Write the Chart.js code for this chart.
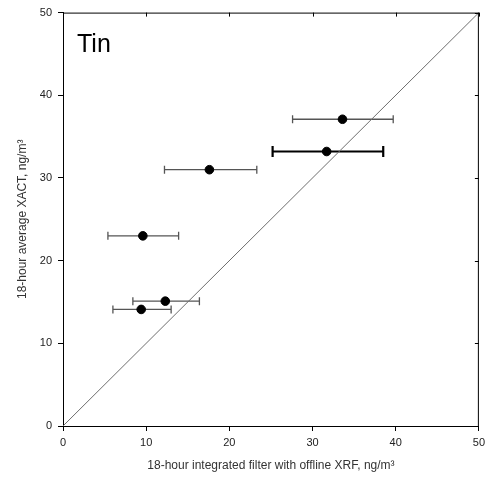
<!DOCTYPE html>
<html>
<head>
<meta charset="utf-8">
<script src="https://cdn.jsdelivr.net/npm/chart.js@4"></script>
<style>
  html, body { margin: 0; padding: 0; background: #fff; }
  #wrap { width: 490px; height: 485px; }
</style>
</head>
<body>
<div id="wrap"><canvas id="grafico" width="490" height="485"></canvas></div>
<script>
// Estaño: XACT (18 h) frente a filtro integrado con XRF
var filtroXRF = [33.6, 31.7, 17.6, 9.6, 12.3, 9.4];
var xactProm = [37.1, 33.2, 31.0, 23.0, 15.1, 14.1];
var errorBajo = [27.6, 25.2, 12.2, 5.4, 8.4, 6.0];
var errorAlto = [39.7, 38.5, 23.3, 13.9, 16.4, 13.0];
var barraOscura = [false, true, false, false, false, false];
var lineaUno = [0, 50];
var marcas = [0, 10, 20, 30, 40, 50];

var fuente = "'Liberation Sans', Arial, sans-serif";

// barras de error horizontales, marco superior/derecho y la etiqueta "Tin"
var extras = {
    id: 'extras',
    beforeDatasetsDraw: function (chart) {
        var ctx = chart.ctx, sx = chart.scales.x, sy = chart.scales.y;
        ctx.save();
        for (var i = 0; i < filtroXRF.length; i++) {
            var y = sy.getPixelForValue(xactProm[i]);
            var x1 = sx.getPixelForValue(errorBajo[i]);
            var x2 = sx.getPixelForValue(errorAlto[i]);
            var cap = barraOscura[i] ? 5.5 : 4;
            ctx.strokeStyle = barraOscura[i] ? '#000' : '#555';
            ctx.lineWidth = barraOscura[i] ? 2.2 : 1.3;
            ctx.beginPath();
            ctx.moveTo(x1, y); ctx.lineTo(x2, y);
            ctx.moveTo(x1, y - cap); ctx.lineTo(x1, y + cap);
            ctx.moveTo(x2, y - cap); ctx.lineTo(x2, y + cap);
            ctx.stroke();
        }
        ctx.restore();
    },
    afterDraw: function (chart) {
        var ctx = chart.ctx, a = chart.chartArea, sx = chart.scales.x, sy = chart.scales.y;
        ctx.save();
        ctx.strokeStyle = '#000';
        ctx.lineWidth = 1;
        ctx.beginPath();
        ctx.moveTo(a.left, a.top + 0.5); ctx.lineTo(a.right, a.top + 0.5);
        ctx.moveTo(a.right - 0.5, a.top); ctx.lineTo(a.right - 0.5, a.bottom);
        marcas.forEach(function (v) {
            var px = Math.round(sx.getPixelForValue(v)) + 0.5;
            var py = Math.round(sy.getPixelForValue(v)) + 0.5;
            ctx.moveTo(px, a.top); ctx.lineTo(px, a.top + 4);
            ctx.moveTo(a.right, py); ctx.lineTo(a.right - 4, py);
        });
        ctx.stroke();
        ctx.fillStyle = '#000';
        ctx.font = '25px ' + fuente;
        ctx.textBaseline = 'alphabetic';
        ctx.fillText('Tin', a.left + 14, a.top + 39);
        ctx.restore();
    }
};

new Chart(document.getElementById('grafico').getContext('2d'), {
    type: 'scatter',
    data: {
        datasets: [{
            label: 'Sn',
            data: filtroXRF.map(function (v, i) { return { x: v, y: xactProm[i] }; }),
            backgroundColor: '#000',
            borderColor: '#000',
            pointRadius: 4.3,
            pointHoverRadius: 4.3
        }, {
            label: '1:1',
            data: lineaUno.map(function (v) { return { x: v, y: v }; }),
            showLine: true,
            borderColor: '#6e6e6e',
            borderWidth: 1,
            pointRadius: 0
        }]
    },
    options: {
        responsive: false,
        animation: false,
        layout: { padding: { left: 0, top: 10, right: 10, bottom: 0 } },
        plugins: { legend: { display: false }, tooltip: { enabled: false } },
        scales: {
            x: {
                type: 'linear', min: 0, max: 50,
                afterFit: function (s) { s.height = 59; },
                ticks: { stepSize: 10, padding: 5, color: '#222', font: { family: fuente, size: 11 } },
                grid: { drawOnChartArea: false, drawTicks: true, tickLength: 5, color: '#000' },
                border: { display: true, color: '#000', width: 1 },
                title: { display: true, text: '18-hour integrated filter with offline XRF, ng/m³',
                         color: '#333', font: { family: fuente, size: 12 }, padding: { top: 0, bottom: 12 } }
            },
            y: {
                type: 'linear', min: 0, max: 50,
                afterFit: function (s) { s.width = 63; },
                ticks: { stepSize: 10, padding: 6, color: '#222', font: { family: fuente, size: 11 } },
                grid: { drawOnChartArea: false, drawTicks: true, tickLength: 5, color: '#000' },
                border: { display: true, color: '#000', width: 1 },
                title: { display: true, text: '18-hour average XACT, ng/m³',
                         color: '#333', font: { family: fuente, size: 12 }, padding: { top: 15, bottom: 0 } }
            }
        }
    },
    plugins: [extras]
});
</script>
</body>
</html>
